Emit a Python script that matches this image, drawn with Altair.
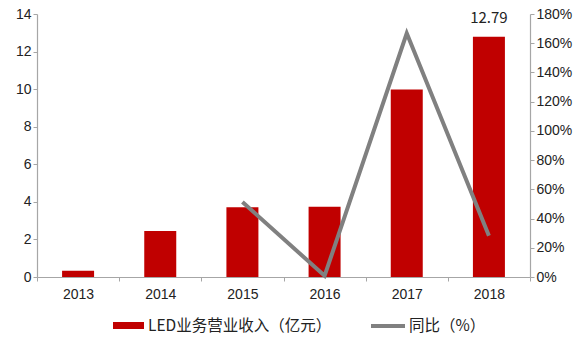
import altair as alt
import pandas as pd

# Revenue of the LED business (100 million yuan) and year-on-year growth (%)
years = ["2013", "2014", "2015", "2016", "2017", "2018"]
revenue = [0.33, 2.45, 3.71, 3.74, 9.98, 12.79]
growth_years = ["2015", "2016", "2017", "2018"]
growth = [51.4, 0.8, 166.8, 28.2]

bar_label = "LED业务营业收入（亿元）"
line_label = "同比（%）"

RED = "#C00000"
GREY = "#808080"
AXIS_GREY = "#A6A6A6"
LATIN_FONT = "Liberation Sans"
CJK_FONT = "Noto Sans CJK SC"

bars_df = pd.DataFrame({"year": years, "revenue": revenue})
line_df = pd.DataFrame({"year": growth_years, "growth": growth})
last_df = bars_df[bars_df["year"] == "2018"]

x_enc = alt.X(
    "year:N",
    sort=years,
    scale=alt.Scale(paddingInner=0, paddingOuter=0),
    axis=alt.Axis(
        title=None,
        labelAngle=0,
        tickBand="extent",
        labelPadding=6,
    ),
)

left_axis = alt.Axis(
    title=None,
    values=list(range(0, 15, 2)),
    grid=False,
    orient="left",
    labelOverlap=False,
)
left_scale = alt.Scale(domain=[0, 14], nice=False)

bars = alt.Chart(bars_df).mark_bar(size=32, color=RED).encode(
    x=x_enc,
    y=alt.Y("revenue:Q", scale=left_scale, axis=left_axis),
)

value_text = alt.Chart(last_df).mark_text(
    dy=-11, font=CJK_FONT, fontSize=15, color="#222222", baseline="bottom"
).encode(
    x=alt.X("year:N", sort=years),
    y=alt.Y("revenue:Q", scale=left_scale, axis=left_axis),
    text=alt.Text("revenue:Q", format=".2f"),
)

left = alt.layer(bars, value_text)

line = alt.Chart(line_df).mark_line(
    color=GREY, strokeWidth=4, strokeJoin="miter", strokeCap="butt"
).encode(
    x=alt.X("year:N", sort=years),
    y=alt.Y(
        "growth:Q",
        scale=alt.Scale(domain=[0, 180], nice=False),
        axis=alt.Axis(
            title=None,
            orient="right",
            values=list(range(0, 181, 20)),
            labelExpr="datum.value + '%'",
            grid=False,
            labelOverlap=False,
        ),
    ),
)

# Legend drawn below the plot area
key = pd.DataFrame({"k": [0]})
legend_rect = alt.Chart(key).mark_rect(color=RED).encode(
    x=alt.value(76), x2=alt.value(107), y=alt.value(308), y2=alt.value(315)
)
legend_rect_text = alt.Chart(key).mark_text(
    align="left", baseline="middle", font=CJK_FONT, fontSize=15.5, color="#222222"
).encode(x=alt.value(111), y=alt.value(311.5), text=alt.value(bar_label))
legend_line = alt.Chart(key).mark_rule(color=GREY, strokeWidth=4).encode(
    x=alt.value(334), x2=alt.value(368), y=alt.value(312)
)
legend_line_text = alt.Chart(key).mark_text(
    align="left", baseline="middle", font=CJK_FONT, fontSize=15.5, color="#222222"
).encode(x=alt.value(372), y=alt.value(311.5), text=alt.value(line_label))

chart = (
    alt.layer(left, line, legend_rect, legend_rect_text, legend_line, legend_line_text)
    .resolve_scale(y="independent")
    .properties(
        width=493,
        height=263,
        autosize=alt.AutoSizeParams(type="none"),
        padding={"left": 37, "top": 14, "right": 49, "bottom": 61},
        background="white",
    )
    .configure_view(stroke=None)
    .configure_axis(
        domainColor=AXIS_GREY,
        tickColor=AXIS_GREY,
        tickSize=4,
        labelFont=LATIN_FONT,
        labelFontSize=14,
        labelColor="#222222",
        domainWidth=1.2,
    )
)

chart.save("out.html", embed_options={"renderer": "svg", "actions": False})
